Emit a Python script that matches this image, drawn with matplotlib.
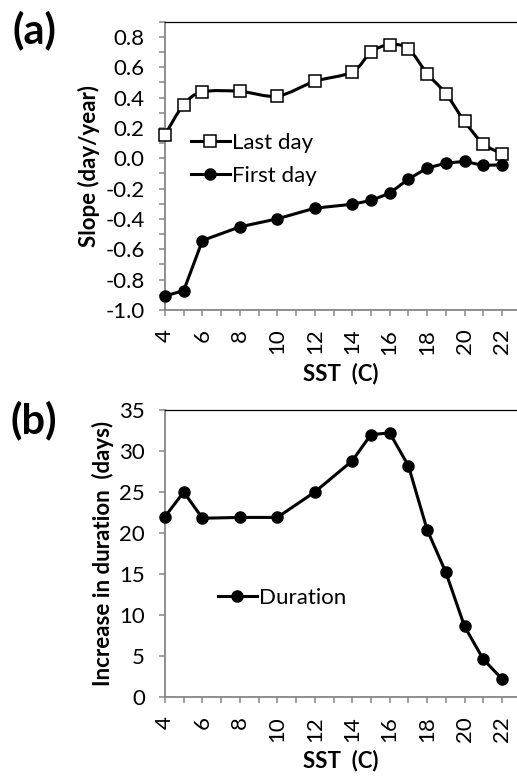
import numpy as np
import matplotlib.pyplot as plt
from matplotlib.path import Path
from matplotlib.patches import PathPatch
from matplotlib.lines import Line2D
from matplotlib.ticker import MultipleLocator

plt.rcParams['font.family'] = ['Lato', 'DejaVu Sans']

sst = [4, 5, 6, 8, 10, 12, 14, 15, 16, 17, 18, 19, 20, 21, 22]
last_day = [0.155, 0.353, 0.437, 0.441, 0.41, 0.507, 0.569, 0.699, 0.749, 0.721,
            0.558, 0.426, 0.243, 0.096, 0.03]
first_day = [-0.908, -0.872, -0.542, -0.452, -0.399, -0.329, -0.303, -0.278,
             -0.230, -0.137, -0.065, -0.032, -0.021, -0.047, -0.043]
duration = [22.0, 25.0, 21.8, 21.9, 21.9, 25.0, 28.8, 32.0, 32.2, 28.2,
            20.4, 15.2, 8.6, 4.6, 2.2]
x_ticks = [4, 6, 8, 10, 12, 14, 16, 18, 20, 22]
slope_ticks = [-1.0, -0.8, -0.6, -0.4, -0.2, 0.0, 0.2, 0.4, 0.6, 0.8]
dur_ticks = [0, 5, 10, 15, 20, 25, 30, 35]

AXIS_GRAY = '#868686'
W, H = 517, 776
TICK_FS = 16
LABEL_FS = 16


def smooth_path(x, y):
    # excel-like smoothed line: catmull-rom segments as cubic beziers
    p = np.column_stack([x, y]).astype(float)
    n = len(p)
    verts = [p[0]]
    codes = [Path.MOVETO]
    for i in range(n - 1):
        p0 = p[i - 1] if i > 0 else p[i]
        p3 = p[i + 2] if i + 2 < n else p[i + 1]
        c1 = p[i] + (p[i + 1] - p0) / 6
        c2 = p[i + 1] - (p3 - p[i]) / 6
        verts += [c1, c2, p[i + 1]]
        codes += [Path.CURVE4] * 3
    return Path(verts, codes)


def style_axes(ax):
    ax.spines['right'].set_visible(False)
    ax.spines['top'].set_color('black')
    ax.spines['top'].set_linewidth(0.9)
    for s in ['left', 'bottom']:
        ax.spines[s].set_color(AXIS_GRAY)
        ax.spines[s].set_linewidth(1.3)
    ax.set_xlim(4, 22.8)
    ax.set_xticks(x_ticks)
    ax.xaxis.set_minor_locator(MultipleLocator(1))
    ax.tick_params(axis='both', which='both', direction='out', length=4.5,
                   width=1.1, color=AXIS_GRAY, labelsize=TICK_FS, pad=10)
    ax.tick_params(axis='x', which='both', labelrotation=90, pad=9)
    ax.set_xlabel('SST  (C)', fontsize=LABEL_FS, fontweight='bold', labelpad=6)


fig = plt.figure(figsize=(W / 100, H / 100), dpi=100)

# panel (a)
ax1 = fig.add_axes([165 / W, 1 - 310 / H, (W - 165) / W, (310 - 21.7) / H])
style_axes(ax1)
ax1.set_ylim(-1.0, 0.9)
ax1.set_yticks(slope_ticks)
ax1.set_yticklabels([f'{v:.1f}' for v in slope_ticks])
ax1.yaxis.set_minor_locator(MultipleLocator(0.1))
ax1.add_patch(PathPatch(smooth_path(sst, last_day), fill=False, lw=2.2,
                        edgecolor='black', zorder=3, clip_on=False))
ax1.plot(sst, last_day, linestyle='none', marker='s', markersize=8,
         markerfacecolor='white', markeredgecolor='black', markeredgewidth=1.1,
         zorder=4, clip_on=False)
ax1.plot(sst, first_day, color='black', lw=2.2, marker='o', markersize=8,
         zorder=4, clip_on=False)
ax1.set_ylabel('Slope (day/year)', fontsize=LABEL_FS, fontweight='bold', labelpad=4)
h_last = Line2D([], [], color='black', lw=2.2, marker='s', markersize=8,
                markerfacecolor='white', markeredgewidth=1.1)
h_first = Line2D([], [], color='black', lw=2.2, marker='o', markersize=8)
ax1.legend([h_last, h_first], ['Last day', 'First day'], loc='center left',
           bbox_to_anchor=(191 / W, 1 - 159.5 / H), bbox_transform=fig.transFigure,
           frameon=False, fontsize=TICK_FS, handlelength=1.75, handletextpad=0.1,
           borderpad=0, borderaxespad=0, labelspacing=0.6)
fig.text(34 / W, 1 - 30 / H, '(a)', fontsize=30, fontweight='bold',
         ha='center', va='center')

# panel (b)
ax2 = fig.add_axes([165 / W, 1 - 697 / H, (W - 165) / W, (697 - 410) / H])
style_axes(ax2)
ax2.set_ylim(0, 35)
ax2.set_yticks(dur_ticks)
ax2.plot(sst, duration, color='black', lw=2.2, marker='o', markersize=8,
         zorder=4, clip_on=False)
ax2.set_ylabel('Increase in duration  (days)', fontsize=LABEL_FS, fontweight='bold',
               labelpad=4)
h_dur = Line2D([], [], color='black', lw=2.2, marker='o', markersize=8)
ax2.legend([h_dur], ['Duration'], loc='center left',
           bbox_to_anchor=(218 / W, 1 - 598 / H), bbox_transform=fig.transFigure,
           frameon=False, fontsize=TICK_FS, handlelength=1.75, handletextpad=0.1,
           borderpad=0, borderaxespad=0)
fig.text(34 / W, 1 - 420 / H, '(b)', fontsize=30, fontweight='bold',
         ha='center', va='center')

fig.savefig('out.png', dpi=100)
